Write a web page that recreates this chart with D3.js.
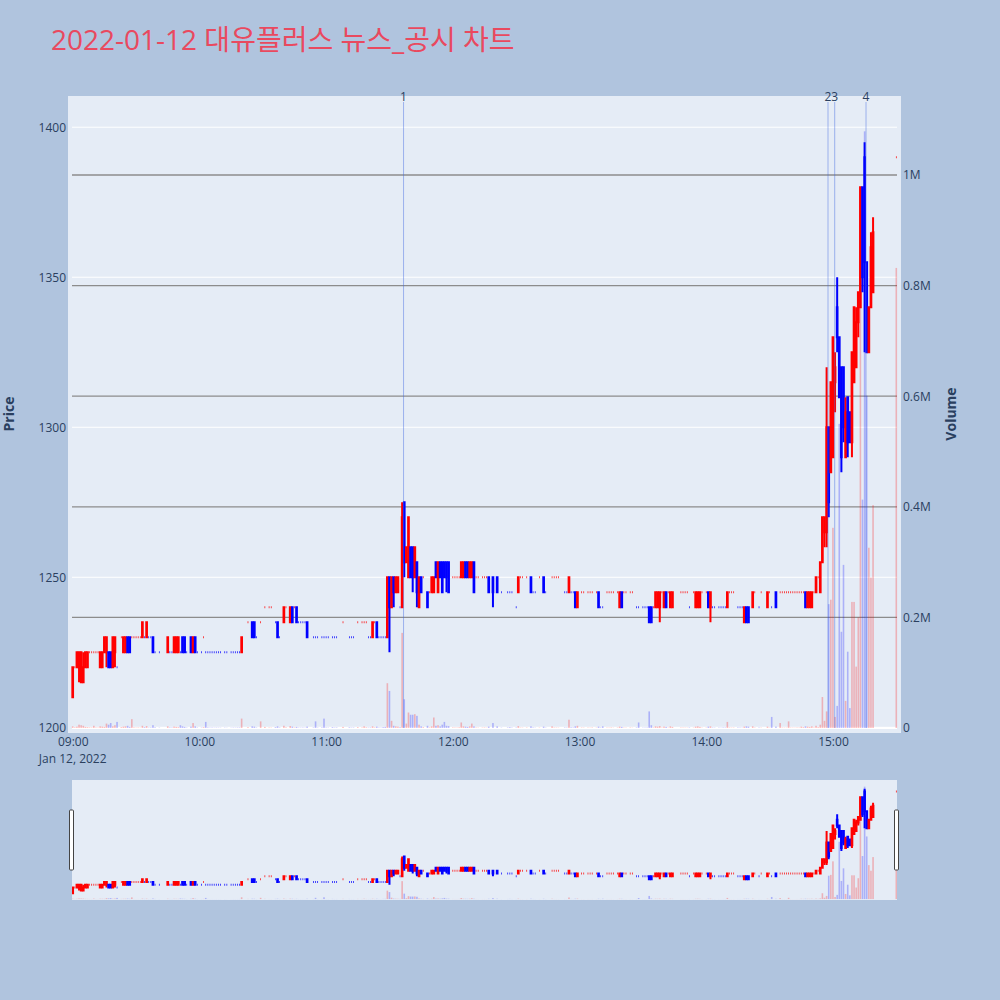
<!DOCTYPE html>
<html>
<head>
<meta charset="utf-8">
<script src="https://cdn.jsdelivr.net/npm/d3@7"></script>
<style>
  body { margin: 0; background: #b0c4de; }
  text { font-family: "Open Sans", "Noto Sans CJK KR", sans-serif; }
</style>
</head>
<body>
<div id="chart"></div>
<script>
// one row per minute from 09:00 to 15:19 (10 per line), last value = 15:30 closing auction
// null = no trade in that minute
var open = [
  1210,1220,1220,1220,1215,1215,1220,1220,1225,1225, // 09:00
  1225,1225,1225,1220,1220,1225,1225,1225,1225,1220,
  1225,1220,null,1230,1225,1225,1230,1230,1230,1230,
  1230,1230,1230,1230,1230,1230,1230,1230,1230,1225,
  null,1225,null,null,null,1225,1225,1225,1225,1225,
  1225,1225,1230,1230,1225,null,1230,1225,1230,1225,
  null,1225,1230,1225,1225,1225,1225,1225,1225,1225, // 10:00
  1225,null,1225,1225,null,1225,1225,1225,1225,1225,
  1225,null,null,1235,null,1235,1235,1230,null,1235,
  null,1240,null,1240,1240,null,1235,1235,1230,null,
  1235,1240,null,1235,1240,1240,1240,1235,1235,1235,
  1235,1235,null,null,1230,1230,1230,null,1230,1230,
  1230,1230,null,1230,1230,1230,null,null,1235,null, // 11:00
  null,1230,1230,1230,null,1235,null,1235,1235,1235,
  1230,1230,1230,1235,1235,1230,1230,1230,1230,1230,
  1250,1240,1250,1245,1245,1240,1240,1275,1255,1250,
  1260,1260,1250,1255,1240,1250,1250,null,1245,1245,
  1245,1245,1255,1245,1255,1255,1255,1255,1255,null,
  1250,1250,1250,1250,1250,1250,1255,1255,1250,1250, // 12:00
  1255,1250,1250,null,1250,1250,1250,1250,null,1250,
  null,1250,null,1245,null,null,1245,1245,1245,null,
  1240,1245,1250,1250,null,1250,null,1250,1245,1245,
  null,1250,null,1250,1245,null,null,1250,1250,1250,
  1250,null,null,1245,1245,1245,1245,1245,1245,1240,
  null,1245,1245,null,1245,1245,1245,null,1245,1245, // 13:00
  1240,1240,null,1245,1245,1245,1245,null,1245,1240,
  1245,1245,1245,null,1245,1245,null,1240,1240,null,
  1240,1240,1240,1240,1240,1240,1240,1240,1240,1245,
  1240,1245,1245,1240,1240,null,null,null,1245,1245,
  1245,1245,1240,null,1245,1240,1240,1240,1245,null,
  1245,1245,1240,1240,1240,null,1240,1240,1240,1240, // 14:00
  1240,1245,1245,1245,null,1240,1240,1240,1235,1240,
  1240,null,1240,1245,null,1240,1245,null,null,1240,
  1245,1240,null,1245,null,1245,1245,1245,1245,1245,
  1245,1245,1245,1245,1245,1245,1245,1245,1240,1240,
  1240,1245,1245,1250,1245,1255,1265,1265,1300,1285,
  1290,1315,1340,1330,1320,1320,1290,1310,1305,1295, // 15:00
  1315,1320,1335,1340,1380,1390,1355,1325,1340,1345,
  1390                                               // 15:30
];
var high = [
  1220,1220,1225,1225,1225,1225,1225,1225,1225,1225,
  1225,1225,1225,1225,1225,1230,1230,1225,1225,1230,
  1230,1220,null,1230,1230,1230,1230,1230,1230,1230,
  1230,1230,1230,1235,1230,1235,1230,1230,1230,1225,
  null,1225,null,null,null,1230,1225,1225,1230,1230,
  1230,1225,1230,1230,1225,null,1230,1230,1230,1225,
  null,1225,1230,1225,1225,1225,1225,1225,1225,1225,
  1225,null,1225,1225,null,1225,1225,1225,1225,1225,
  1230,null,null,1235,null,1235,1235,1230,null,1235,
  null,1240,null,1240,1240,null,1235,1235,1230,null,
  1240,1240,null,1240,1240,1240,1240,1235,1235,1235,
  1235,1235,null,null,1230,1230,1230,null,1230,1230,
  1230,1230,null,1230,1230,1230,null,null,1235,null,
  null,1230,1230,1230,null,1235,null,1235,1235,1235,
  1230,1230,1235,1235,1235,1230,1230,1230,1230,1250,
  1250,1250,1250,1250,1250,1240,1275,1275,1260,1270,
  1260,1260,1260,1255,1250,1250,1250,null,1245,1245,
  1250,1250,1255,1255,1255,1255,1255,1255,1255,null,
  1250,1250,1250,1250,1255,1255,1255,1255,1255,1255,
  1255,1250,1250,null,1250,1250,1250,1250,null,1250,
  null,1250,null,1245,null,null,1245,1245,1245,null,
  1240,1250,1250,1250,null,1250,null,1250,1245,1245,
  null,1250,null,1250,1245,null,null,1250,1250,1250,
  1250,null,null,1245,1245,1250,1245,1245,1245,1245,
  null,1245,1245,null,1245,1245,1245,null,1245,1245,
  1240,1240,null,1245,1245,1245,1245,null,1245,1245,
  1245,1245,1245,null,1245,1245,null,1240,1240,null,
  1240,1240,1240,1240,1240,1240,1245,1245,1245,1245,
  1245,1245,1245,1245,1245,null,null,null,1245,1245,
  1245,1245,1240,null,1245,1245,1245,1245,1245,null,
  1245,1245,1245,1240,1240,null,1240,1240,1240,1240,
  1245,1245,1245,1245,null,1240,1240,1240,1240,1240,
  1240,null,1245,1245,null,1240,1245,null,null,1245,
  1245,1240,null,1245,null,1245,1245,1245,1245,1245,
  1245,1245,1245,1245,1245,1245,1245,1245,1245,1245,
  1245,1245,1250,1250,1255,1270,1270,1320,1300,1315,
  1330,1325,1350,1330,1320,1320,1310,1310,1305,1325,
  1340,1340,1345,1380,1380,1395,1355,1340,1365,1370,
  1390
];
var low = [
  1210,1220,1220,1215,1215,1215,1220,1220,1225,1225,
  1225,1225,1225,1220,1220,1225,1220,1220,1220,1220,
  1220,1220,null,1230,1225,1225,1225,1225,1230,1230,
  1230,1230,1230,1230,1230,1230,1230,1230,1225,1225,
  null,1225,null,null,null,1225,1225,1225,1225,1225,
  1225,1225,1225,1225,1225,null,1225,1225,1225,1225,
  null,1225,1230,1225,1225,1225,1225,1225,1225,1225,
  1225,null,1225,1225,null,1225,1225,1225,1225,1225,
  1225,null,null,1235,null,1230,1230,1230,null,1235,
  null,1240,null,1240,1240,null,1235,1230,1230,null,
  1235,1240,null,1235,1235,1240,1235,1235,1235,1235,
  1235,1230,null,null,1230,1230,1230,null,1230,1230,
  1230,1230,null,1230,1230,1230,null,null,1235,null,
  null,1230,1230,1230,null,1235,null,1235,1235,1235,
  1230,1230,1230,1235,1230,1230,1230,1230,1230,1230,
  1225,1240,1240,1245,1245,1240,1240,1250,1255,1250,
  1250,1245,1250,1240,1240,1245,1250,null,1240,1245,
  1245,1245,1250,1245,1250,1245,1250,1245,1245,null,
  1250,1250,1250,1250,1250,1250,1250,1250,1250,1250,
  1245,1250,1250,null,1250,1250,1250,1245,null,1240,
  null,1245,null,1245,null,null,1245,1245,1245,null,
  1240,1245,1250,1250,null,1250,null,1245,1245,1245,
  null,1250,null,1245,1245,null,null,1250,1250,1250,
  1250,null,null,1245,1245,1245,1245,1245,1240,1240,
  null,1245,1245,null,1245,1245,1245,null,1245,1240,
  1240,1240,null,1245,1245,1245,1245,null,1245,1240,
  1240,1245,1245,null,1245,1245,null,1240,1240,null,
  1240,1240,1240,1235,1235,1240,1240,1240,1235,1245,
  1240,1240,1245,1240,1240,null,null,null,1245,1245,
  1245,1245,1240,null,1245,1240,1240,1240,1245,null,
  1245,1240,1235,1240,1240,null,1240,1240,1240,1240,
  1240,1245,1245,1245,null,1240,1240,1240,1235,1235,
  1235,null,1240,1245,null,1240,1245,null,null,1240,
  1245,1240,null,1240,null,1245,1245,1245,1245,1245,
  1245,1245,1245,1245,1245,1245,1245,1240,1240,1240,
  1240,1245,1245,1250,1245,1255,1260,1260,1270,1285,
  1290,1305,1325,1310,1285,1295,1290,1290,1295,1290,
  1315,1320,1330,1340,1345,1325,1325,1325,1340,1345,
  1390
];
var close = [
  1220,1220,1225,1225,1225,1220,1225,1225,1225,1225,
  1225,1225,1225,1225,1225,1230,1230,1220,1220,1230,
  1230,1220,null,1230,1230,1230,1225,1225,1230,1230,
  1230,1230,1230,1235,1230,1235,1230,1230,1225,1225,
  null,1225,null,null,null,1230,1225,1225,1230,1230,
  1230,1225,1225,1225,1225,null,1225,1230,1225,1225,
  null,1225,1230,1225,1225,1225,1225,1225,1225,1225,
  1225,null,1225,1225,null,1225,1225,1225,1225,1225,
  1230,null,null,1235,null,1230,1230,1230,null,1235,
  null,1240,null,1240,1240,null,1235,1230,1230,null,
  1240,1240,null,1240,1235,1240,1235,1235,1235,1235,
  1235,1230,null,null,1230,1230,1230,null,1230,1230,
  1230,1230,null,1230,1230,1230,null,null,1235,null,
  null,1230,1230,1230,null,1235,null,1235,1235,1235,
  1230,1230,1235,1235,1230,1230,1230,1230,1230,1250,
  1240,1250,1245,1250,1250,1240,1270,1255,1260,1270,
  1250,1250,1260,1245,1250,1245,1250,null,1240,1245,
  1250,1250,1250,1255,1250,1245,1250,1250,1245,null,
  1250,1250,1250,1250,1255,1255,1250,1250,1255,1255,
  1245,1250,1250,null,1250,1250,1250,1245,null,1245,
  null,1245,null,1245,null,null,1245,1245,1245,null,
  1240,1250,1250,1250,null,1250,null,1245,1245,1245,
  null,1250,null,1245,1245,null,null,1250,1250,1250,
  1250,null,null,1245,1245,1250,1245,1245,1240,1245,
  null,1245,1245,null,1245,1245,1245,null,1245,1240,
  1240,1240,null,1245,1245,1245,1245,null,1245,1245,
  1240,1245,1245,null,1245,1245,null,1240,1240,null,
  1240,1240,1240,1235,1235,1240,1245,1245,1245,1245,
  1245,1240,1245,1245,1245,null,null,null,1245,1245,
  1245,1245,1240,null,1245,1245,1245,1245,1245,null,
  1245,1240,1245,1240,1240,null,1240,1240,1240,1240,
  1245,1245,1245,1245,null,1240,1240,1240,1240,1235,
  1235,null,1245,1245,null,1240,1245,null,null,1245,
  1245,1240,null,1240,null,1245,1245,1245,1245,1245,
  1245,1245,1245,1245,1245,1245,1245,1240,1245,1245,
  1245,1245,1250,1250,1255,1270,1270,1300,1275,1315,
  1330,1320,1330,1310,1290,1300,1305,1295,1295,1325,
  1340,1335,1345,1380,1350,1355,1325,1340,1360,1365,
  1390
];
var volume = [
  3000,1200,2500,6000,5000,4000,2000,1500,1000,800,
  4000,900,700,3000,2500,2000,8000,6000,9000,3000,
  5000,11000,null,1500,2500,3000,4000,2000,16000,1000,
  600,800,500,4000,1500,3500,700,900,5000,1200,
  null,600,null,null,null,3000,1000,800,2500,2000,
  1500,5000,3000,2000,700,null,2500,9000,3000,800,
  null,700,1500,11000,1000,600,800,500,700,600,
  500,null,600,400,null,500,700,600,800,900,
  17000,null,null,1500,null,3000,2500,800,null,12000,
  null,2000,null,800,600,null,1500,3000,900,null,
  4000,1200,null,3500,2500,900,2000,700,600,800,
  500,2500,null,null,900,12000,700,null,1000,17000,
  800,600,null,1500,700,900,null,null,2000,null,
  null,1200,700,800,null,1500,null,900,3000,1200,
  700,900,3000,1000,2500,800,600,1500,2000,81000,
  67000,13000,4000,3000,2500,1500,172000,52000,8000,28000,
  24000,24000,25000,22000,6000,3000,1500,null,4000,1000,
  3000,19000,4000,5000,3000,6000,11000,4000,3500,null,
  1000,800,700,1200,10000,3000,2500,2000,3000,8000,
  3000,800,600,null,700,900,500,2500,null,9000,
  null,3000,null,600,null,null,900,1500,700,null,
  800,3500,700,600,null,800,null,3000,900,500,
  null,700,null,2500,600,null,null,3000,800,700,
  600,null,null,900,700,15000,1200,800,3000,4000,
  null,800,600,null,700,500,900,null,600,2500,
  800,3000,null,700,600,900,500,null,800,2500,
  2000,700,600,null,800,500,null,900,10000,null,
  600,700,800,30000,5000,900,3000,2500,3500,700,
  2500,2000,600,3000,2000,null,null,null,800,700,
  600,500,900,null,700,2500,3000,2000,600,null,
  700,2500,3000,800,600,null,700,500,900,800,
  11000,800,600,700,null,900,700,500,2500,3000,
  2500,null,3000,700,null,800,600,null,null,2500,
  600,20000,null,2500,null,9000,700,600,500,12000,
  700,600,500,800,700,2500,1500,3000,2500,2000,
  3000,900,4000,1500,6000,56000,13000,30000,224000,232000,
  362000,20000,40000,550000,174000,295000,49000,138000,36000,228000,
  228000,111000,200000,762000,413000,1079000,601000,326000,272000,403000,
  832000
];

// news / disclosure markers
var newsTimes = ["11:36:40", "14:57:40", "15:00:50", "15:15:40"];
var newsLabels = ["1", "2", "3", "4"];

var priceTicks = [1200, 1250, 1300, 1350, 1400];
var volumeTicks = [0, 200000, 400000, 600000, 800000, 1000000];
var title = "2022-01-12 대유플러스 뉴스_공시 차트";

var sessionStart = new Date(2022, 0, 12, 9, 0);
var auctionTime = new Date(2022, 0, 12, 15, 30);
var times = open.map(function(d, i) {
  return i < 380 ? d3.timeMinute.offset(sessionStart, i) : auctionTime;
});
var parseNews = d3.timeParse("%Y-%m-%d %H:%M:%S");

// candles, colour follows plotly: up/down vs open, flat vs previous close
var candles = [];
var prevC = null, prevDir = "up";
open.forEach(function(o, i) {
  if (o == null) return;
  var c = close[i], dir;
  if (c > o) dir = "up";
  else if (c < o) dir = "down";
  else if (prevC != null && c > prevC) dir = "up";
  else if (prevC != null && c < prevC) dir = "down";
  else dir = prevDir;
  candles.push({t: times[i], o: o, h: high[i], l: low[i], c: c, v: volume[i], dir: dir});
  prevC = c; prevDir = dir;
});

var upColor = "#ff0000", downColor = "#0000ff";
var axisColor = "#2a3f5f";

var svg = d3.select("#chart").append("svg")
    .attr("width", 1000)
    .attr("height", 1000);

svg.append("rect").attr("width", 1000).attr("height", 1000).attr("fill", "#b0c4de");

svg.append("text")
    .attr("x", 51).attr("y", 50)
    .attr("font-size", 28)
    .attr("fill", "#e9495f")
    .text(title);

// scales
var x = d3.scaleTime()
    .domain([new Date(2022, 0, 12, 8, 59, 40), new Date(2022, 0, 12, 15, 30, 20)])
    .range([72, 897]);
var yP = d3.scaleLinear().domain([1198.1, 1410.4]).range([733, 96]);
var yV = d3.scaleLinear().domain([-9040, 1142900]).range([733, 96]);
var yPs = yP.copy().range([900, 780]);
var yVs = yV.copy().range([900, 780]);

// plot background
svg.append("rect")
    .attr("x", 68).attr("y", 96)
    .attr("width", 833).attr("height", 637)
    .attr("fill", "#e5ecf6");

// price grid (white)
svg.append("g").selectAll("line")
  .data(priceTicks)
  .enter().append("line")
    .attr("x1", 72).attr("x2", 897)
    .attr("y1", function(d) { return yP(d); })
    .attr("y2", function(d) { return yP(d); })
    .attr("stroke", "#ffffff").attr("stroke-width", 1);

// volume grid (gray) + zero line
svg.append("g").selectAll("line")
  .data(volumeTicks.filter(function(d) { return d > 0; }))
  .enter().append("line")
    .attr("x1", 72).attr("x2", 897)
    .attr("y1", function(d) { return yV(d); })
    .attr("y2", function(d) { return yV(d); })
    .attr("stroke", "#8c8c8c").attr("stroke-width", 1.3);
svg.append("line")
    .attr("x1", 72).attr("x2", 897)
    .attr("y1", yV(0)).attr("y2", yV(0))
    .attr("stroke", "#ffffff").attr("stroke-width", 2);

function candlePath(y) {
  return function(d) {
    var cx = x(d.t), bw = 0.35;
    var top = y(Math.max(d.o, d.c)), bot = y(Math.min(d.o, d.c));
    return "M" + cx + "," + y(d.h) + "V" + top +
      "M" + (cx - bw) + "," + top + "H" + (cx + bw) + "V" + bot + "H" + (cx - bw) + "Z" +
      "M" + cx + "," + bot + "V" + y(d.l);
  };
}
function col(d) { return d.dir === "up" ? upColor : downColor; }

function drawTraces(g, yPrice, yVol) {
  g.append("g").selectAll("path")
    .data(candles)
    .enter().append("path")
      .attr("d", candlePath(yPrice))
      .attr("fill", col)
      .attr("stroke", col)
      .attr("stroke-width", 2);

  g.append("g").selectAll("rect")
    .data(candles)
    .enter().append("rect")
      .attr("x", function(d) { return x(d.t) - 0.8; })
      .attr("width", 1.6)
      .attr("y", function(d) { return yVol(d.v); })
      .attr("height", function(d) { return yVol(0) - yVol(d.v); })
      .attr("fill", col)
      .attr("opacity", 0.25);
}

drawTraces(svg.append("g"), yP, yV);

// news lines
var news = newsTimes.map(function(t, i) {
  return {t: parseNews("2022-01-12 " + t), label: newsLabels[i]};
});
svg.append("g").selectAll("line")
  .data(news)
  .enter().append("line")
    .attr("x1", function(d) { return x(d.t); })
    .attr("x2", function(d) { return x(d.t); })
    .attr("y1", 102).attr("y2", yV(0))
    .attr("stroke", "rgba(65,105,225,0.45)")
    .attr("stroke-width", 1);
svg.append("g").selectAll("text")
  .data(news)
  .enter().append("text")
    .attr("x", function(d) { return x(d.t); })
    .attr("y", 101)
    .attr("text-anchor", "middle")
    .attr("font-size", 12)
    .attr("fill", axisColor)
    .text(function(d) { return d.label; });

// axes
var gy = svg.append("g")
    .attr("transform", "translate(70,0)")
    .call(d3.axisLeft(yP).tickValues(priceTicks).tickSize(0).tickPadding(4)
      .tickFormat(d3.format("d")));
var gy2 = svg.append("g")
    .attr("transform", "translate(899,0)")
    .call(d3.axisRight(yV).tickValues(volumeTicks).tickSize(0).tickPadding(4)
      .tickFormat(function(d) { return d === 0 ? "0" : (d / 1e6) + "M"; }));
var gx = svg.append("g")
    .attr("transform", "translate(0,733)")
    .call(d3.axisBottom(x).ticks(d3.timeHour.every(1)).tickSize(0).tickPadding(4)
      .tickFormat(d3.timeFormat("%H:%M")));
[gy, gy2, gx].forEach(function(g) {
  g.select(".domain").remove();
  g.selectAll("text")
    .attr("font-family", "'Open Sans', sans-serif")
    .attr("font-size", 12)
    .attr("fill", axisColor);
});
svg.append("text")
    .attr("x", x(sessionStart)).attr("y", 763)
    .attr("text-anchor", "middle")
    .attr("font-size", 12)
    .attr("fill", axisColor)
    .text("Jan 12, 2022");

svg.append("text")
    .attr("transform", "translate(14,414) rotate(-90)")
    .attr("text-anchor", "middle")
    .attr("font-size", 14)
    .attr("font-weight", "bold")
    .attr("fill", axisColor)
    .text("Price");
svg.append("text")
    .attr("transform", "translate(956,414) rotate(-90)")
    .attr("text-anchor", "middle")
    .attr("font-size", 14)
    .attr("font-weight", "bold")
    .attr("fill", axisColor)
    .text("Volume");

// range slider
svg.append("rect")
    .attr("x", 72).attr("y", 780)
    .attr("width", 825).attr("height", 120)
    .attr("fill", "#e5ecf6");
var slider = svg.append("g");
slider.append("clipPath").attr("id", "sliderClip")
  .append("rect").attr("x", 72).attr("y", 780).attr("width", 825).attr("height", 120);
drawTraces(slider.append("g").attr("clip-path", "url(#sliderClip)"), yPs, yVs);

[69.5, 894.5].forEach(function(hx) {
  svg.append("rect")
      .attr("x", hx).attr("y", 810)
      .attr("width", 4).attr("height", 60)
      .attr("rx", 1)
      .attr("fill", "#ffffff")
      .attr("stroke", "#444444")
      .attr("stroke-width", 1);
});
</script>
</body>
</html>
